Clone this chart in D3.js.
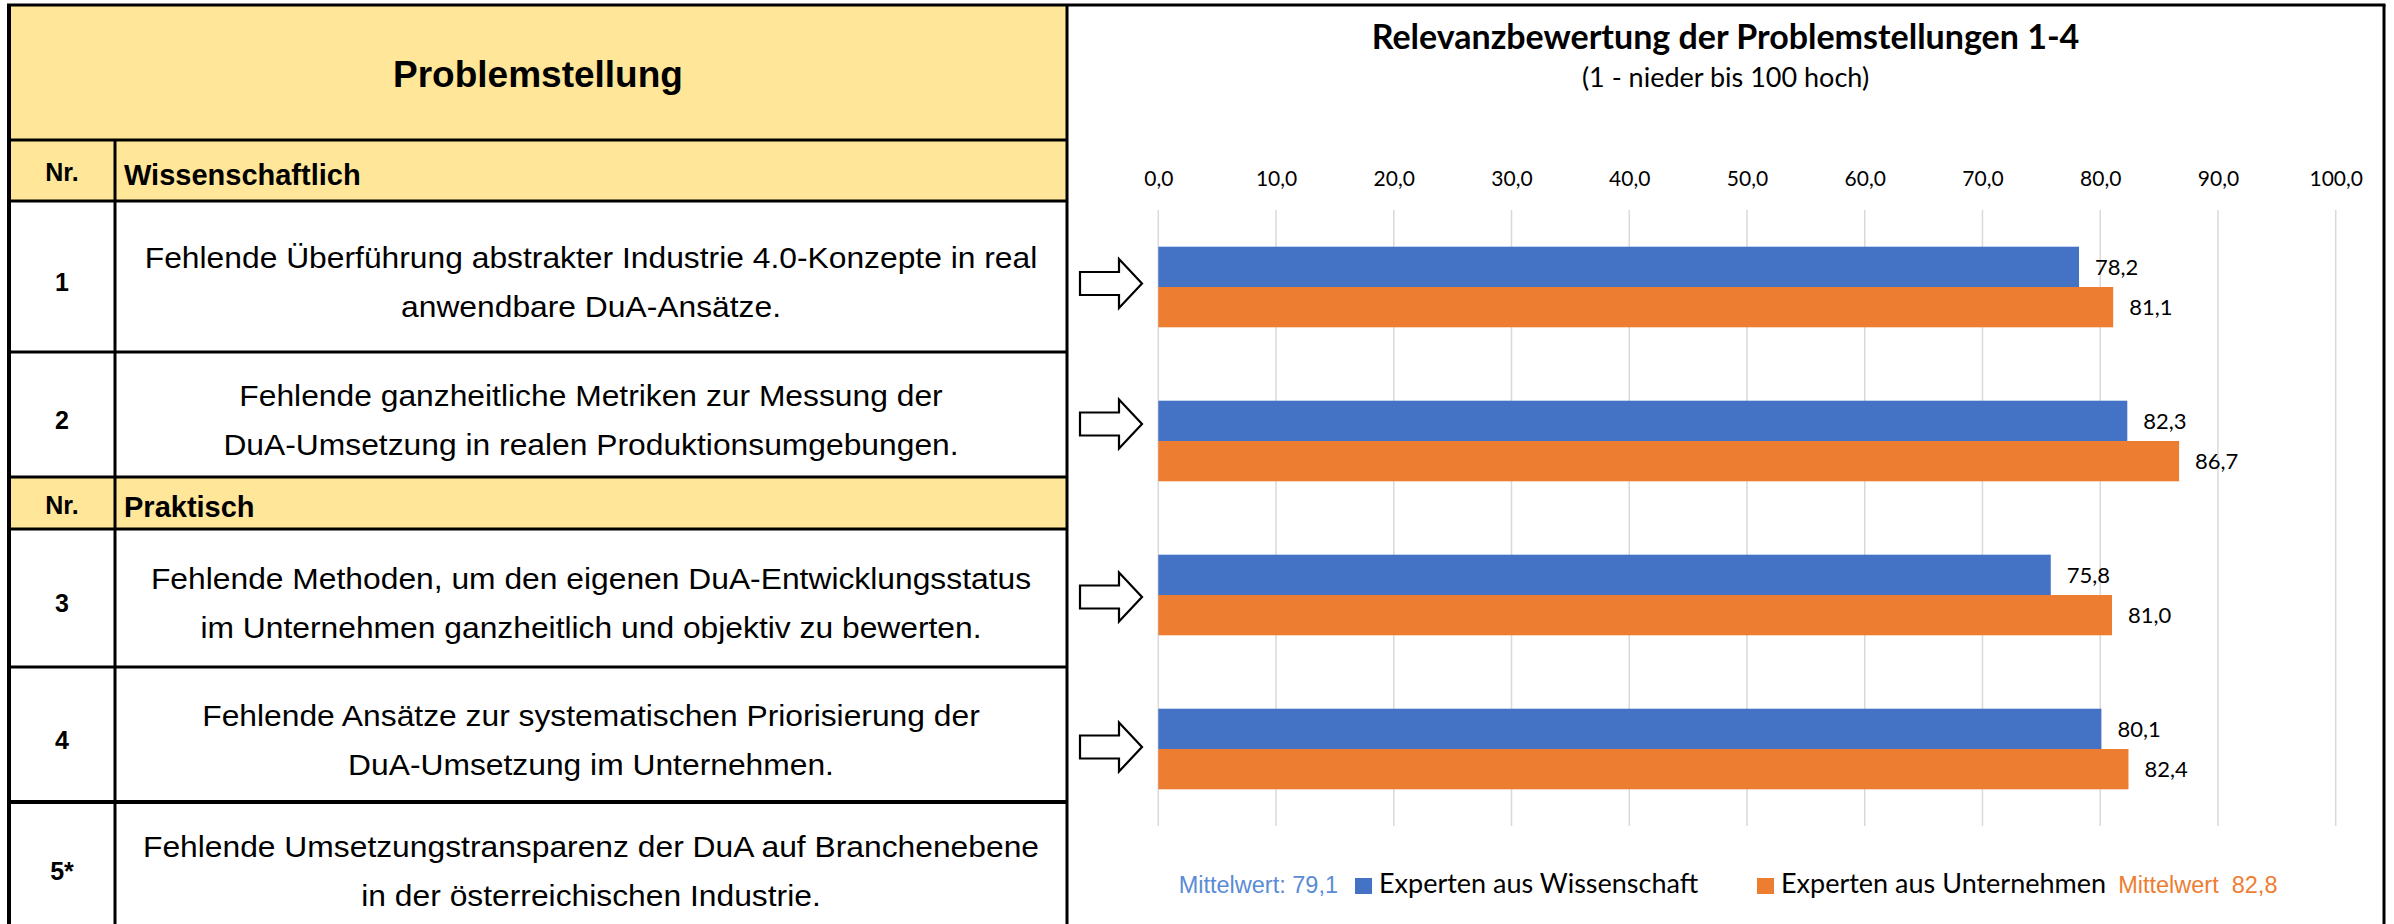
<!DOCTYPE html>
<html>
<head>
<meta charset="utf-8">
<script src="https://cdn.jsdelivr.net/npm/d3@7"></script>
<style>
  body { margin: 0; background: #fff; }
  svg { display: block; }
  .tbl { font-family: "Liberation Sans", Arial, sans-serif; fill: #000; }
  .xl { font-family: Lato, "Open Sans", sans-serif; fill: #000; }
</style>
</head>
<body>
<div id="chart"></div>
<script>
// ---- data ----
const problemIds = ["1", "2", "3", "4"];
const seriesNames = ["Experten aus Wissenschaft", "Experten aus Unternehmen"];
const wissenschaftValues = [78.2, 82.3, 75.8, 80.1];
const unternehmenValues = [81.1, 86.7, 81.0, 82.4];
const axisTicks = [0, 10, 20, 30, 40, 50, 60, 70, 80, 90, 100];
const meanPrefixes = ["Mittelwert: ", "Mittelwert  "];

const chartTitle = "Relevanzbewertung der Problemstellungen 1-4";
const chartSubtitle = "(1 - nieder bis 100 hoch)";

const tableTitle = "Problemstellung";
const nrLabel = "Nr.";
const sectionNames = ["Wissenschaftlich", "Praktisch"];
const rowNumbers = ["1", "2", "3", "4", "5*"];
const rowTexts = [
  ["Fehlende Überführung abstrakter Industrie 4.0-Konzepte in real", "anwendbare DuA-Ansätze."],
  ["Fehlende ganzheitliche Metriken zur Messung der", "DuA-Umsetzung in realen Produktionsumgebungen."],
  ["Fehlende Methoden, um den eigenen DuA-Entwicklungsstatus", "im Unternehmen ganzheitlich und objektiv zu bewerten."],
  ["Fehlende Ansätze zur systematischen Priorisierung der", "DuA-Umsetzung im Unternehmen."],
  ["Fehlende Umsetzungstransparenz der DuA auf Branchenebene", "in der österreichischen Industrie."]
];

const colors = ["#4472C4", "#ED7D31"];
const yellow = "#FFE699";

const width = 2394, height = 924;
const svg = d3.select("#chart").append("svg")
  .attr("width", width)
  .attr("height", height);

svg.append("rect").attr("width", width).attr("height", height).attr("fill", "#fff");

// ---- table on the left ----
const tblLeft = 9, tblRight = 1067, nrCol = 115, tblTop = 5;
const layout = [
  { kind: "title", h: 135 },
  { kind: "section", i: 0, h: 61 },
  { kind: "item", i: 0, h: 151 },
  { kind: "item", i: 1, h: 125 },
  { kind: "section", i: 1, h: 52 },
  { kind: "item", i: 2, h: 138 },
  { kind: "item", i: 3, h: 135 },
  { kind: "item", i: 4, h: 128 }
];
let acc = tblTop;
layout.forEach(r => { r.y0 = acc; acc += r.h; r.y1 = acc; r.cy = (r.y0 + r.y1) / 2; });
const tableBottom = acc;

const tbl = svg.append("g").attr("class", "tbl");

tbl.selectAll("rect.row")
  .data(layout)
  .join("rect")
  .attr("class", "row")
  .attr("x", tblLeft)
  .attr("y", d => d.y0)
  .attr("width", tblRight - tblLeft)
  .attr("height", d => d.h)
  .attr("fill", d => d.kind === "item" ? "#fff" : yellow);

// title
tbl.append("text")
  .attr("x", (tblLeft + tblRight) / 2)
  .attr("y", layout[0].cy + 14)
  .attr("text-anchor", "middle")
  .style("font-size", "37px")
  .style("font-weight", "bold")
  .text(tableTitle);

const sections = layout.filter(d => d.kind === "section");
tbl.selectAll("text.nr")
  .data(sections)
  .join("text")
  .attr("class", "nr")
  .attr("x", (tblLeft + nrCol) / 2)
  .attr("y", d => d.cy + 10.5)
  .attr("text-anchor", "middle")
  .style("font-size", "25px")
  .style("font-weight", "bold")
  .text(nrLabel);

tbl.selectAll("text.sec")
  .data(sections)
  .join("text")
  .attr("class", "sec")
  .attr("x", nrCol + 9)
  .attr("y", d => d.cy + 14)
  .style("font-size", "29px")
  .style("font-weight", "bold")
  .text(d => sectionNames[d.i]);

const items = layout.filter(d => d.kind === "item");
tbl.selectAll("text.num")
  .data(items)
  .join("text")
  .attr("class", "num")
  .attr("x", (tblLeft + nrCol) / 2)
  .attr("y", d => d.cy + 14)
  .attr("text-anchor", "middle")
  .style("font-size", "25px")
  .style("font-weight", "bold")
  .text(d => rowNumbers[d.i]);

const textCx = (nrCol + tblRight) / 2;
items.forEach(r => {
  const lines = rowTexts[r.i];
  lines.forEach((line, k) => {
    const by = r.cy + 5 + 10.8 + (k - (lines.length - 1) / 2) * 49;
    tbl.append("text")
      .attr("transform", `translate(${textCx},${by}) scale(1.06,1)`)
      .attr("text-anchor", "middle")
      .style("font-size", "30px")
      .text(line);
  });
});

// table lines
const hLines = layout.slice(1).map(d => d.y0);
tbl.selectAll("line.h")
  .data(hLines)
  .join("line")
  .attr("x1", tblLeft).attr("x2", tblRight)
  .attr("y1", d => d).attr("y2", d => d)
  .attr("stroke", "#000")
  .attr("stroke-width", (d, i) => i === hLines.length - 1 ? 4 : 3);

tbl.append("line")
  .attr("x1", nrCol).attr("x2", nrCol)
  .attr("y1", layout[1].y0).attr("y2", tableBottom)
  .attr("stroke", "#000").attr("stroke-width", 3);

// outer frame
const chartRight = 2384;
svg.append("line").attr("x1", tblLeft - 2).attr("x2", chartRight + 1.5)
  .attr("y1", tblTop).attr("y2", tblTop).attr("stroke", "#000").attr("stroke-width", 3);
svg.append("line").attr("x1", tblLeft).attr("x2", tblLeft)
  .attr("y1", tblTop).attr("y2", tableBottom).attr("stroke", "#000").attr("stroke-width", 4);
svg.append("line").attr("x1", tblRight).attr("x2", tblRight)
  .attr("y1", tblTop).attr("y2", tableBottom).attr("stroke", "#000").attr("stroke-width", 3);
svg.append("line").attr("x1", chartRight).attr("x2", chartRight)
  .attr("y1", tblTop).attr("y2", tableBottom).attr("stroke", "#000").attr("stroke-width", 3);

// ---- bar chart on the right ----
const fmt = d3.formatLocale({ decimal: ",", thousands: ".", grouping: [3], currency: ["", " €"] }).format(".1f");

const plotTop = 210, plotBottom = 826;
const x = d3.scaleLinear().domain([0, 100]).range([1158.3, 2335.7]);
const y = d3.scaleBand().domain(problemIds).range([plotTop, plotBottom])
  .paddingInner(0.4766).paddingOuter(0.2383);
const ySub = d3.scaleBand().domain([0, 1]).range([0, y.bandwidth()]);

const series = [wissenschaftValues, unternehmenValues];
const barData = [];
problemIds.forEach((id, i) => {
  series.forEach((vals, s) => barData.push({ id: id, s: s, v: vals[i] }));
});

const chart = svg.append("g").attr("class", "xl");

chart.append("text")
  .attr("x", (tblRight + chartRight) / 2)
  .attr("y", 49)
  .attr("text-anchor", "middle")
  .style("font-size", "34px")
  .style("font-weight", "bold")
  .text(chartTitle);

chart.append("text")
  .attr("x", (tblRight + chartRight) / 2)
  .attr("y", 87)
  .attr("text-anchor", "middle")
  .style("font-size", "27px")
  .text(chartSubtitle);

// gridlines
chart.selectAll("line.grid")
  .data(axisTicks)
  .join("line")
  .attr("class", "grid")
  .attr("x1", d => x(d)).attr("x2", d => x(d))
  .attr("y1", plotTop).attr("y2", plotBottom)
  .attr("stroke", "#d9d9d9")
  .attr("stroke-width", 1.5);

// top axis
const axis = chart.append("g")
  .attr("transform", `translate(0,${plotTop})`)
  .call(d3.axisTop(x).tickValues(axisTicks).tickSize(0).tickPadding(24).tickFormat(fmt));
axis.select(".domain").remove();
axis.selectAll("text")
  .attr("fill", "#000")
  .style("font-family", "Lato, 'Open Sans', sans-serif")
  .style("font-size", "21px");

// bars
chart.selectAll("rect.bar")
  .data(barData)
  .join("rect")
  .attr("class", "bar")
  .attr("x", x(0))
  .attr("y", d => y(d.id) + ySub(d.s))
  .attr("width", d => x(d.v) - x(0))
  .attr("height", ySub.bandwidth())
  .attr("fill", d => colors[d.s]);

chart.selectAll("text.val")
  .data(barData)
  .join("text")
  .attr("class", "val")
  .attr("x", d => x(d.v) + 16)
  .attr("y", d => y(d.id) + ySub(d.s) + ySub.bandwidth() / 2)
  .attr("dy", "0.37em")
  .style("font-size", "22px")
  .text(d => fmt(d.v));

// block arrows pointing from the table rows to the bars
const arrowNudge = [-3.5, -17, 2, -2];
function arrowPath(x0, cy) {
  const shaft = 11.5, head = 24.5, base = x0 + 39, tip = x0 + 62;
  return `M${x0},${cy - shaft}H${base}V${cy - head}L${tip},${cy}L${base},${cy + head}V${cy + shaft}H${x0}Z`;
}
chart.selectAll("path.arrow")
  .data(problemIds)
  .join("path")
  .attr("class", "arrow")
  .attr("d", (d, i) => arrowPath(1080, y(d) + y.bandwidth() / 2 + arrowNudge[i]))
  .attr("fill", "#fff")
  .attr("stroke", "#000")
  .attr("stroke-width", 2.2);

// legend
const legendY = 893;
const legendX = [1355, 1757];
const legend = chart.selectAll("g.leg")
  .data(seriesNames)
  .join("g")
  .attr("class", "leg")
  .attr("transform", (d, i) => `translate(${legendX[i]},${legendY})`);

legend.append("rect")
  .attr("x", 0).attr("y", -15)
  .attr("width", 17).attr("height", 16)
  .attr("fill", (d, i) => colors[i]);

legend.append("text")
  .attr("x", 24)
  .attr("y", 0)
  .style("font-size", "27px")
  .text(d => d);

const means = series.map(v => d3.mean(v));

svg.append("text")
  .attr("class", "tbl")
  .attr("x", legendX[0] - 17)
  .attr("y", legendY)
  .attr("text-anchor", "end")
  .attr("xml:space", "preserve")
  .style("white-space", "pre")
  .style("font-size", "23.5px")
  .style("fill", "#5B8BD6")
  .text(meanPrefixes[0] + fmt(means[0]));

const lastLabel = legend.filter((d, i) => i === 1).select("text").node();
svg.append("text")
  .attr("class", "tbl")
  .attr("x", legendX[1] + 24 + lastLabel.getComputedTextLength() + 12)
  .attr("y", legendY)
  .attr("xml:space", "preserve")
  .style("white-space", "pre")
  .style("font-size", "23.5px")
  .style("fill", colors[1])
  .text(meanPrefixes[1] + fmt(means[1]));
</script>
</body>
</html>
